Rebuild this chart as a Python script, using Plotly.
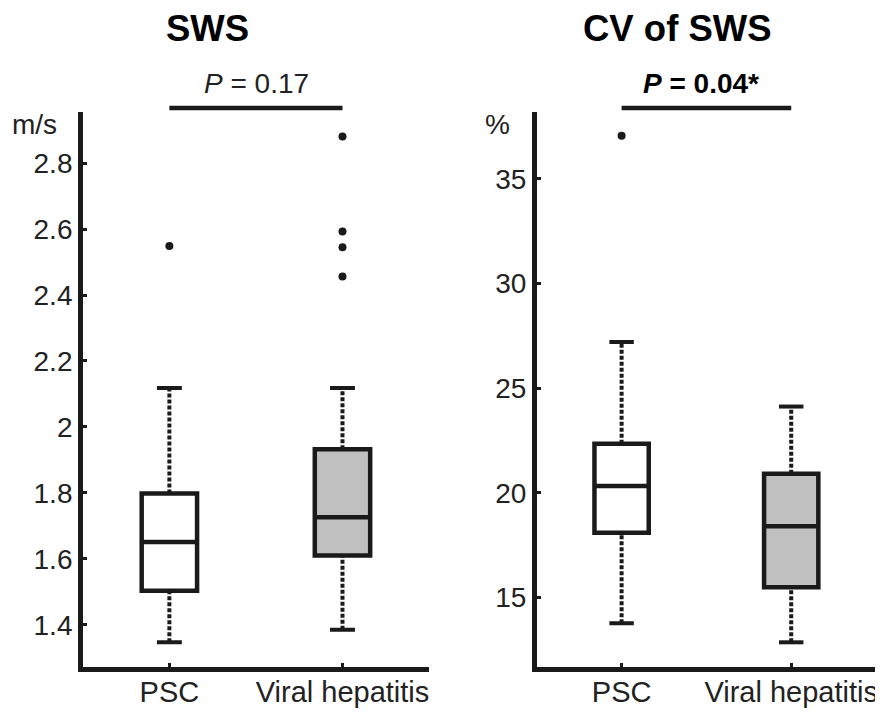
import plotly.graph_objects as go

groups = ["PSC", "Viral hepatitis"]
group_pos = [1, 2]
fills = ["white", "#c0c0c0"]

# SWS (m/s)
sws_q1 = [1.503, 1.610]
sws_med = [1.651, 1.726]
sws_q3 = [1.798, 1.932]
sws_low = [1.347, 1.385]
sws_high = [2.118, 2.118]
sws_out_psc = [2.549]
sws_out_vh = [2.881, 2.593, 2.545, 2.456]

# CV of SWS (%)
cv_q1 = [18.09, 15.48]
cv_med = [20.32, 18.40]
cv_q3 = [22.34, 20.91]
cv_low = [13.76, 12.85]
cv_high = [27.21, 24.12]
cv_out_psc = [37.06]
cv_out_vh = []

FONT = "Liberation Sans, Arial, sans-serif"
INK = "#1a1a1a"
OFF = 8  # page body margin
W, H = 883 - OFF, 712 - OFF

def fx(px):
    return (px - OFF) / W

def fy(py):
    return 1 - (py - OFF) / H

fig = go.Figure()

def add_panel(xa, ya, q1, med, q3, low, high, outs):
    for i, p in enumerate(group_pos):
        fig.add_trace(go.Scatter(x=[p, p, None, p, p], y=[low[i], q1[i], None, q3[i], high[i]],
                                 mode="lines", line=dict(color=INK, width=4, dash="4px,2px"),
                                 xaxis=xa, yaxis=ya, showlegend=False, hoverinfo="skip"))
        cw = 0.072
        fig.add_trace(go.Scatter(x=[p - cw, p + cw, None, p - cw, p + cw],
                                 y=[high[i], high[i], None, low[i], low[i]],
                                 mode="lines", line=dict(color=INK, width=4),
                                 xaxis=xa, yaxis=ya, showlegend=False, hoverinfo="skip"))
        fig.add_trace(go.Box(x=[p], q1=[q1[i]], median=[med[i]], q3=[q3[i]],
                             lowerfence=[q1[i]], upperfence=[q3[i]], width=0.32,
                             fillcolor=fills[i], line=dict(color=INK, width=4.5),
                             boxpoints=False, xaxis=xa, yaxis=ya, showlegend=False))
        if outs[i]:
            fig.add_trace(go.Scatter(x=[p] * len(outs[i]), y=outs[i], mode="markers",
                                     marker=dict(color=INK, size=8),
                                     xaxis=xa, yaxis=ya, showlegend=False))

add_panel("x", "y", sws_q1, sws_med, sws_q3, sws_low, sws_high, [sws_out_psc, sws_out_vh])
add_panel("x2", "y2", cv_q1, cv_med, cv_q3, cv_low, cv_high, [cv_out_psc, cv_out_vh])

ydom = [fy(667), fy(112)]
axis_common = dict(showline=True, linewidth=4.5, linecolor=INK, showgrid=False, zeroline=False,
                   ticks="inside", ticklen=4, tickwidth=3, tickcolor=INK,
                   tickfont=dict(family=FONT, size=28, color="#222"))
xtick = dict(axis_common, tickfont=dict(family=FONT, size=29, color="#222"), ticklabelstandoff=-5)

fig.update_layout(
    width=W, height=H, margin=dict(l=0, r=0, t=0, b=0),
    paper_bgcolor="white", plot_bgcolor="white",
    xaxis=dict(domain=[fx(83), fx(430)], range=[0.5, 2.5], tickvals=group_pos, ticktext=groups,
               anchor="y", **xtick),
    yaxis=dict(domain=ydom, range=[1.272, 2.955], tickvals=[1.4, 1.6, 1.8, 2.0, 2.2, 2.4, 2.6, 2.8],
               ticktext=["1.4", "1.6", "1.8", "2", "2.2", "2.4", "2.6", "2.8"], anchor="x", **axis_common),
    xaxis2=dict(domain=[fx(538), fx(878)], range=[0.5, 2.5], tickvals=group_pos, ticktext=groups,
                anchor="y2", **xtick),
    yaxis2=dict(domain=ydom, range=[11.67, 38.2], tickvals=[15, 20, 25, 30, 35], anchor="x2", **axis_common),
    showlegend=False,
)

ybar = fy(108)
fig.add_shape(type="line", xref="x", yref="paper", x0=1, x1=2, y0=ybar, y1=ybar,
              line=dict(color=INK, width=4.5))
fig.add_shape(type="line", xref="x2", yref="paper", x0=1, x1=2, y0=ybar, y1=ybar,
              line=dict(color=INK, width=4.5))

def ann(text, px, py, size, bold=False):
    fig.add_annotation(text=text, x=fx(px), y=fy(py), xref="paper", yref="paper",
                       showarrow=False, xanchor="center", yanchor="middle",
                       font=dict(family=FONT, size=size, color="black" if bold else "#222"))

ann("<b>SWS</b>", 208, 28, 36.5, True)
ann("<b>CV of SWS</b>", 679, 28, 36.5, True)
ann("<i>P</i> = 0.17", 257, 84, 28)
ann("<b><i>P</i> = 0.04*</b>", 703, 84, 28, True)
ann("m/s", 35, 124, 28)
ann("%", 499, 124, 28)

fig.write_html("out.html")
